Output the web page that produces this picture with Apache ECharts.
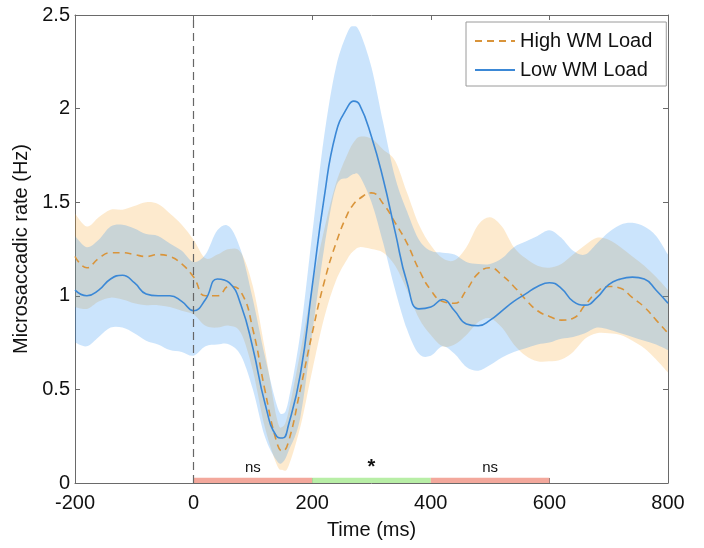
<!DOCTYPE html>
<html><head><meta charset="utf-8">
<script src="https://cdn.jsdelivr.net/npm/echarts@6/dist/echarts.min.js"></script>
<style>html,body{margin:0;padding:0;background:#fff}#chart{width:704px;height:548px}</style>
</head><body><div id="chart"></div>
<script>
const timeMs = [-200,-180,-160,-140,-120,-100,-80,-60,-40,-20,0,20,40,60,80,100,120,140,150,160,180,200,220,240,260,270,280,300,320,340,360,380,400,420,440,460,480,500,520,540,560,580,600,620,640,660,680,700,720,740,760,780,800];

const lowMean  = [1.03,1.00,1.03,1.09,1.11,1.07,1.01,1.00,1.00,0.97,0.92,0.98,1.09,1.07,0.95,0.72,0.43,0.25,0.24,0.31,0.58,1.05,1.52,1.87,2.01,2.04,2.02,1.85,1.62,1.34,1.07,0.93,0.94,0.98,0.92,0.85,0.84,0.87,0.92,0.97,1.01,1.05,1.07,1.04,0.97,0.95,0.99,1.06,1.09,1.10,1.09,1.03,0.96];
const lowUpper = [1.32,1.26,1.30,1.37,1.38,1.36,1.33,1.32,1.28,1.24,1.18,1.22,1.35,1.37,1.24,0.98,0.68,0.42,0.37,0.44,0.80,1.33,1.85,2.22,2.41,2.44,2.41,2.22,1.92,1.63,1.45,1.30,1.24,1.23,1.22,1.18,1.17,1.17,1.20,1.26,1.29,1.32,1.35,1.31,1.24,1.22,1.28,1.34,1.38,1.39,1.37,1.32,1.22];
const lowLower = [0.75,0.73,0.78,0.83,0.83,0.80,0.76,0.74,0.71,0.70,0.68,0.73,0.74,0.74,0.68,0.50,0.25,0.12,0.11,0.17,0.35,0.80,1.25,1.58,1.63,1.65,1.64,1.50,1.28,1.03,0.82,0.69,0.68,0.73,0.69,0.62,0.60,0.63,0.67,0.70,0.72,0.74,0.75,0.77,0.78,0.80,0.83,0.82,0.80,0.78,0.76,0.74,0.71];

const highMean  = [1.21,1.15,1.20,1.23,1.23,1.22,1.21,1.22,1.21,1.17,1.10,1.00,1.00,1.05,1.02,0.82,0.50,0.22,0.17,0.22,0.50,0.80,1.07,1.28,1.44,1.49,1.52,1.55,1.49,1.39,1.28,1.14,1.03,0.97,0.96,1.03,1.12,1.15,1.11,1.05,0.98,0.92,0.89,0.87,0.88,0.95,1.02,1.05,1.04,0.99,0.94,0.87,0.80];
const highUpper = [1.44,1.37,1.42,1.46,1.46,1.48,1.50,1.49,1.44,1.38,1.30,1.20,1.22,1.25,1.23,1.05,0.72,0.35,0.30,0.38,0.70,1.05,1.35,1.60,1.76,1.82,1.85,1.84,1.78,1.72,1.55,1.38,1.27,1.20,1.19,1.26,1.38,1.42,1.37,1.26,1.20,1.16,1.15,1.17,1.22,1.27,1.31,1.30,1.26,1.21,1.16,1.10,1.03];
const highLower = [0.94,0.93,0.97,0.99,0.98,0.96,0.95,0.95,0.94,0.92,0.90,0.84,0.83,0.84,0.80,0.60,0.30,0.10,0.07,0.09,0.30,0.60,0.88,1.08,1.20,1.24,1.26,1.25,1.23,1.16,1.03,0.88,0.79,0.73,0.74,0.79,0.86,0.88,0.83,0.74,0.68,0.65,0.65,0.66,0.70,0.77,0.80,0.80,0.79,0.76,0.72,0.66,0.59];

const xTicks = [-200,0,200,400,600,800];
const yTicks = [0,0.5,1,1.5,2,2.5];
const sigWindows = [[0,200],[200,400],[400,600]];
const sigLabels = ['ns','*','ns'];
const sigSignificant = [false,true,false];
const seriesNames = ['High WM Load','Low WM Load'];
const stimulusOnset = 0;

const FONT = 'Liberation Sans, Arial, Helvetica, sans-serif';
const BLUE = '#3b88d6', ORANGE = '#d9943a';
const BLUE_FILL = 'rgba(30,140,240,0.23)', ORANGE_FILL = 'rgba(245,160,30,0.22)';

function pairs(ys){ return timeMs.map((t,i)=>[t, ys[i]]); }

function catmull(P){
  let s = '';
  for(let i=0;i<P.length-1;i++){
    const p0=P[Math.max(i-1,0)], p1=P[i], p2=P[i+1], p3=P[Math.min(i+2,P.length-1)];
    const c1=[p1[0]+(p2[0]-p0[0])/6, p1[1]+(p2[1]-p0[1])/6];
    const c2=[p2[0]-(p3[0]-p1[0])/6, p2[1]-(p3[1]-p1[1])/6];
    s += 'C'+c1[0].toFixed(2)+','+c1[1].toFixed(2)+' '+c2[0].toFixed(2)+','+c2[1].toFixed(2)+' '+p2[0].toFixed(2)+','+p2[1].toFixed(2);
  }
  return s;
}

function bandSeries(up, lo, color, z){
  return {
    type:'custom', silent:true, clip:true, z, data:[[timeMs[0], up[0]]],
    encode:{x:0, y:1},
    renderItem:(params, api)=>{
      if(params.dataIndex!==0) return null;
      const U = timeMs.map((t,i)=>api.coord([t, up[i]]));
      const L = timeMs.map((t,i)=>api.coord([t, lo[i]])).reverse();
      const d = 'M'+U[0][0]+','+U[0][1]+catmull(U)+'L'+L[0][0]+','+L[0][1]+catmull(L)+'Z';
      return {type:'path', shape:{pathData:d}, style:{fill:color, stroke:null}};
    }
  };
}

const chart = echarts.init(document.getElementById('chart'), null, {renderer:'canvas'});
const axisCol = '#6a6a6a';
const SMOOTH = 0.5;

const option = {
  animation:false,
  backgroundColor:'#fff',
  textStyle:{fontFamily:FONT},
  grid:{left:75, right:36, top:15, bottom:65, containLabel:false},
  legend:{
    data: seriesNames, orient:'vertical', left:466, top:22,
    backgroundColor:'#fff', borderColor:'#9a9a9a', borderWidth:1, borderRadius:0,
    padding:[9,14,6,8], itemGap:9, itemWidth:40, itemHeight:14,
    itemStyle:{opacity:0, borderWidth:0},
    textStyle:{fontSize:20, color:'#111', fontFamily:FONT}
  },
  xAxis:[{
    type:'value', min:xTicks[0], max:xTicks[xTicks.length-1], interval:xTicks[1]-xTicks[0],
    name:'Time (ms)', nameLocation:'middle', nameGap:37,
    nameTextStyle:{fontSize:20, color:'#111', fontFamily:FONT},
    axisLine:{show:true, onZero:false, lineStyle:{color:axisCol, width:1}},
    axisTick:{show:true, inside:true, length:5, lineStyle:{color:axisCol}},
    axisLabel:{fontSize:20, color:'#111', margin:10, fontFamily:FONT},
    splitLine:{show:false}
  },{
    type:'value', position:'top', min:xTicks[0], max:xTicks[xTicks.length-1], interval:xTicks[1]-xTicks[0],
    axisLine:{show:true, onZero:false, lineStyle:{color:axisCol, width:1}},
    axisTick:{show:true, inside:true, length:5, lineStyle:{color:axisCol}},
    axisLabel:{show:false}, splitLine:{show:false}
  }],
  yAxis:[{
    type:'value', min:yTicks[0], max:yTicks[yTicks.length-1], interval:yTicks[1]-yTicks[0],
    name:'Microsaccadic rate (Hz)', nameLocation:'middle', nameGap:42,
    nameTextStyle:{fontSize:20, color:'#111', fontFamily:FONT},
    axisLine:{show:true, onZero:false, lineStyle:{color:axisCol, width:1}},
    axisTick:{show:true, inside:true, length:5, lineStyle:{color:axisCol}},
    axisLabel:{fontSize:20, color:'#111', margin:5, fontFamily:FONT},
    splitLine:{show:false}
  },{
    type:'value', position:'right', min:yTicks[0], max:yTicks[yTicks.length-1], interval:yTicks[1]-yTicks[0],
    axisLine:{show:true, onZero:false, lineStyle:{color:axisCol, width:1}},
    axisTick:{show:true, inside:true, length:5, lineStyle:{color:axisCol}},
    axisLabel:{show:false}, splitLine:{show:false}
  }],
  series:[
    bandSeries(highUpper, highLower, ORANGE_FILL, 1),
    bandSeries(lowUpper, lowLower, BLUE_FILL, 1),
    {
      name: seriesNames[0], type:'line', data: pairs(highMean), smooth:SMOOTH, symbol:'none',
      lineStyle:{color:ORANGE, width:1.6, type:[7,5]}, itemStyle:{color:ORANGE}, z:3
    },
    {
      name: seriesNames[1], type:'line', data: pairs(lowMean), smooth:SMOOTH, symbol:'none',
      lineStyle:{color:BLUE, width:1.6}, itemStyle:{color:BLUE}, z:4,
      markLine:{
        silent:true, symbol:'none', animation:false,
        lineStyle:{color:'#666', type:[8,5], width:1.2},
        label:{show:false},
        data:[{xAxis: stimulusOnset}]
      },
      markArea:{
        silent:true,
        data: sigWindows.map((w,i)=>[
          {xAxis:w[0], yAxis:0, name:sigLabels[i],
           itemStyle:{color: sigSignificant[i] ? '#b8eea6' : '#f3a89c'},
           label:{show:true, position:'top', distance: sigSignificant[i] ? 0 : 2,
             fontSize: sigSignificant[i] ? 20 : 15, fontWeight: sigSignificant[i] ? 'bold' : 'normal',
             color:'#111', fontFamily:FONT}},
          {xAxis:w[1], yAxis:0.028}
        ])
      }
    }
  ]
};
chart.setOption(option);
</script>
</body></html>
